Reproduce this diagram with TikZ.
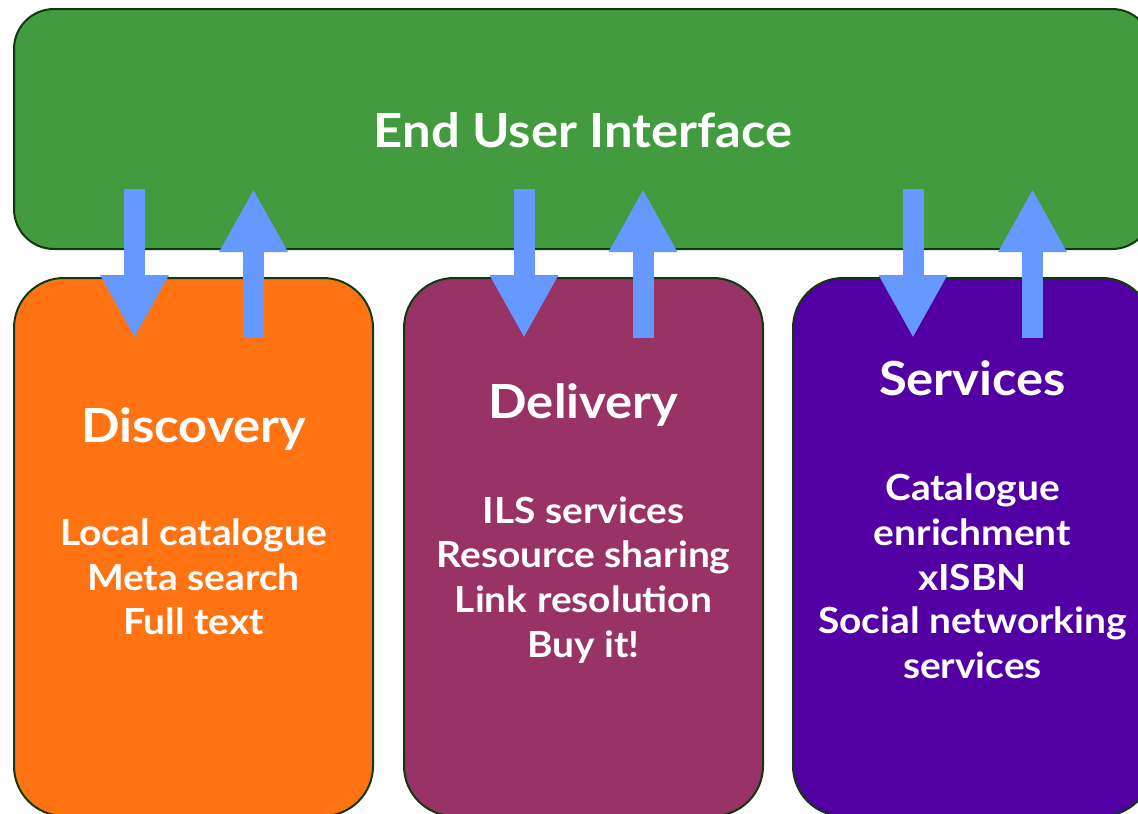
\documentclass[tikz,border=0pt]{standalone}
\usepackage{fontspec}
\setmainfont{Lato}[FakeStretch=1.08]
\usetikzlibrary{arrows.meta}
\definecolor{uigreen}{HTML}{429B3F}
\definecolor{discorange}{HTML}{FF7312}
\definecolor{delivplum}{HTML}{993366}
\definecolor{servpurple}{HTML}{5200A4}
\definecolor{arrowblue}{HTML}{6699FF}
\definecolor{edgegreen}{HTML}{0F3A0F}
\tikzset{
  panel/.style={draw=edgegreen, line width=2pt, inner sep=0pt, outer sep=0pt},
  toppanel/.style={panel, fill=uigreen, rounded corners=40pt, minimum width=1138pt, minimum height=240pt},
  lowpanel/.style={panel, rounded corners=50pt, minimum width=359pt, minimum height=538pt},
  titletext/.style={text=white, font=\fontsize{47}{56}\selectfont\bfseries, anchor=base, inner sep=0pt},
  bodytext/.style={text=white, font=\fontsize{36}{44}\selectfont\bfseries, anchor=base, inner sep=0pt},
  flowarrow/.style={draw=arrowblue, line width=21pt, -{Triangle[width=64pt,length=63pt]}},
}
\begin{document}
\begin{tikzpicture}[x=1pt,y=-1pt]
\useasboundingbox (0,0) rectangle (1138,814);
% panels
\node[toppanel, anchor=north west] (ui) at (14,9) {};
\node[lowpanel, fill=discorange, anchor=north west] (disc) at (14,278) {};
\node[lowpanel, fill=delivplum, anchor=north west] (deliv) at (404,278) {};
\node[lowpanel, fill=servpurple, anchor=north west] (serv) at (793,278) {};
% titles
\node[titletext] (uit) at (583,147) {End User Interface};
\node[titletext] (disct) at (193.5,442) {Discovery};
\node[titletext] (delivt) at (583.5,418) {Delivery};
\node[titletext] (servt) at (972.5,395) {Services};
% body lines
\node[bodytext] (d1) at (193.5,545) {Local catalogue};
\node[bodytext] (d2) at (193.5,590) {Meta search};
\node[bodytext] (d3) at (193.5,634) {Full text};
\node[bodytext] (e1) at (583.5,523) {ILS services};
\node[bodytext] (e2) at (583.5,567) {Resource sharing};
\node[bodytext] (e3) at (583.5,612) {Link resolution};
\node[bodytext] (e4) at (583.5,657) {Buy it!};
\node[bodytext] (s1) at (972.5,500) {Catalogue};
\node[bodytext] (s2) at (972.5,545) {enrichment};
\node[bodytext] (s3) at (972.5,590) {xISBN};
\node[bodytext] (s4) at (972.5,633) {Social networking};
\node[bodytext] (s5) at (972.5,678) {services};
% arrow end points
\coordinate (a1t) at (134.5,189);  \coordinate (a1b) at (134.5,338);
\coordinate (a2t) at (253.5,189);  \coordinate (a2b) at (253.5,338);
\coordinate (b1t) at (524,189);    \coordinate (b1b) at (524,338);
\coordinate (b2t) at (643,189);    \coordinate (b2b) at (643,338);
\coordinate (c1t) at (913,189);    \coordinate (c1b) at (913,338);
\coordinate (c2t) at (1032.5,189); \coordinate (c2b) at (1032.5,338);
\draw[flowarrow] (a1t) -- (a1b);
\draw[flowarrow] (a2b) -- (a2t);
\draw[flowarrow] (b1t) -- (b1b);
\draw[flowarrow] (b2b) -- (b2t);
\draw[flowarrow] (c1t) -- (c1b);
\draw[flowarrow] (c2b) -- (c2t);
\end{tikzpicture}
\end{document}
